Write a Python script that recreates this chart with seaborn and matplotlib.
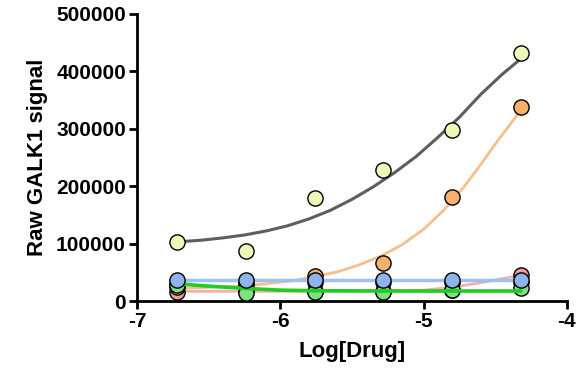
import matplotlib
matplotlib.use("Agg")
import matplotlib.pyplot as plt
import seaborn as sns
import pandas as pd
import numpy as np

# concentrations (log M)
log_drug = [-6.72, -6.24, -5.76, -5.28, -4.80, -4.32]

# measured points
yellow_pts = [102000, 88000, 179000, 229000, 297000, 432000]
orange_pts = [24000, 28000, 43000, 66000, 181000, 338000]
pink_pts = [16000, 17000, 17000, 18000, 20000, 46000]
black_pts = [30000, 33000, 34000, 34000, 33000, 34000]
green_pts = [28000, 14000, 15000, 15000, 19000, 22000]
blue_pts = [36000, 36000, 36000, 36000, 36000, 36000]

# fitted curves
gray_fit_x = [-6.72, -6.55, -6.4, -6.25, -6.1, -5.95, -5.8, -5.65, -5.5, -5.35, -5.2, -5.05, -4.9, -4.75, -4.6, -4.45, -4.32]
gray_fit_y = [103000, 106000, 110000, 115000, 122000, 131000, 143000, 158000, 177000, 199000, 224000, 252000, 285000, 320000, 360000, 395000, 422000]
orange_fit_x = [-6.72, -6.5, -6.3, -6.1, -5.9, -5.75, -5.6, -5.45, -5.3, -5.15, -5.0, -4.86, -4.72, -4.6, -4.48, -4.4, -4.32]
orange_fit_y = [22000, 24000, 26000, 30000, 36000, 43000, 51000, 63000, 78000, 98000, 125000, 158000, 198000, 238000, 280000, 306000, 333000]
pink_fit_x = [-6.72, -6.0, -5.5, -5.0, -4.8, -4.6, -4.45, -4.32]
pink_fit_y = [17000, 17000, 17500, 19000, 24000, 32000, 39000, 45000]
green_fit_x = [-6.72, -6.5, -6.24, -6.0, -5.76, -5.3, -4.8, -4.32]
green_fit_y = [30000, 26000, 22000, 19000, 18000, 17500, 17500, 17500]
blue_fit_x = [-6.72, -4.32]
blue_fit_y = [36500, 36500]

yticks = [0, 100000, 200000, 300000, 400000, 500000]
xticks = [-7, -6, -5, -4]

sns.set_theme(style="ticks")
plt.rcParams['font.family'] = ['Liberation Sans', 'DejaVu Sans']

fig = plt.figure(figsize=(5.88, 3.74), dpi=100)
ax = fig.add_axes([0.233, 0.195, 0.731, 0.768])

s = 120
def curve(xs, ys, color, lw, z):
    sns.lineplot(x=xs, y=ys, ax=ax, color=color, linewidth=lw, zorder=z, sort=False)

def pts(ys, fc, z):
    sns.scatterplot(x=log_drug, y=ys, ax=ax, s=s, color=fc, edgecolor="black", linewidth=1.0, zorder=z)

curve(pink_fit_x, pink_fit_y, "#f4b0b0", 2.0, 2)
pts(pink_pts, "#f19a9a", 3)
curve(orange_fit_x, orange_fit_y, "#f6c08c", 2.0, 4)
pts(orange_pts, "#f6b06c", 5)
pts(black_pts, "#222222", 6)
curve(green_fit_x, green_fit_y, "#22cc22", 2.6, 8)
pts(green_pts, "#7ee07e", 7)
curve(blue_fit_x, blue_fit_y, "#9ec0f0", 2.5, 9)
pts(blue_pts, "#8db4ec", 10)
curve(gray_fit_x, gray_fit_y, "#5e5e5e", 2.2, 11)
pts(yellow_pts, "#eef6b8", 12)

ax.set_xlim(-7, -4)
ax.set_ylim(0, 500000)
ax.set_xticks(xticks)
ax.set_xticklabels([str(t) for t in xticks])
ax.set_yticks(yticks)
ax.set_yticklabels([str(t) for t in yticks])
for lab in ax.get_xticklabels() + ax.get_yticklabels():
    lab.set_fontweight("bold")
    lab.set_fontsize(15)
    lab.set_color("black")
ax.tick_params(axis="both", direction="out", length=6, width=2, color="black", pad=2)
for side in ["left", "bottom"]:
    ax.spines[side].set_linewidth(2)
    ax.spines[side].set_color("black")
sns.despine(ax=ax)
ax.set_xlabel("Log[Drug]", fontsize=16, fontweight="bold", labelpad=7, color="black")
ax.set_ylabel("Raw GALK1 signal", fontsize=16, fontweight="bold", labelpad=6, color="black")
ax.grid(False)

fig.savefig("out.png", dpi=100)
